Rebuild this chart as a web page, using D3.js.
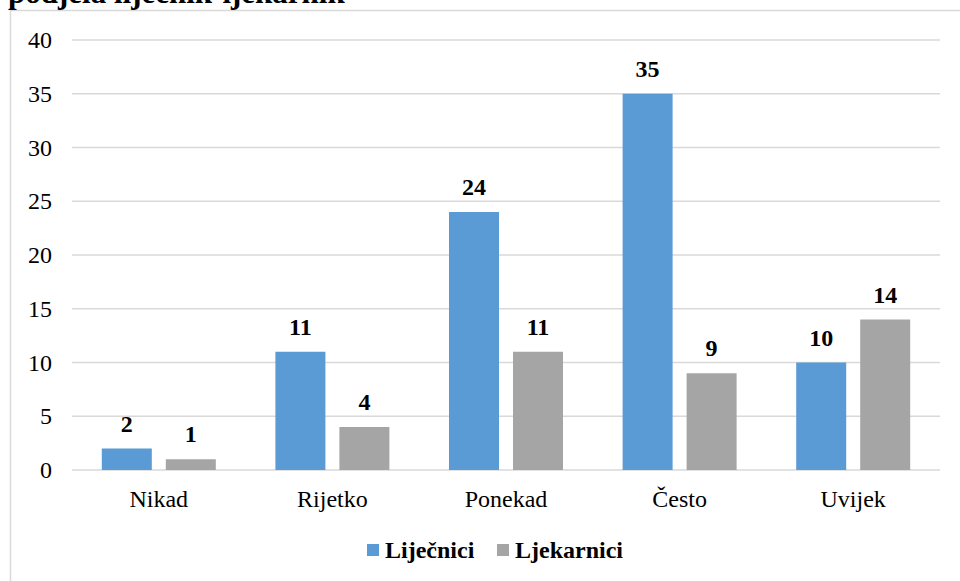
<!DOCTYPE html>
<html>
<head>
<meta charset="utf-8">
<script src="https://d3js.org/d3.v7.min.js"></script>
</head>
<body style="margin:0">
<div id="container"></div>
<script>
// data
var categories = ["Nikad", "Rijetko", "Ponekad", "Često", "Uvijek"];
var seriesNames = ["Liječnici", "Ljekarnici"];
var lijecnici = [2, 11, 24, 35, 10];
var ljekarnici = [1, 4, 11, 9, 14];
var yTicks = [0, 5, 10, 15, 20, 25, 30, 35, 40];
var colors = ["#5b9bd5", "#a5a5a5"];

const width = 960, height = 581;
const margin = { top: 40, bottom: 111, left: 72, right: 20 };
const fontName = "Liberation Serif";

var svg = d3.select("#container").append("svg")
    .attr("width", width)
    .attr("height", height)
    .style("display", "block");

function label(sel, size, bold) {
  return sel.attr("font-size", size)
    .attr("font-weight", bold ? "bold" : "normal")
    .attr("font-family", fontName)
    .style("font-family", fontName);
}

// frame (cut off at right and bottom)
svg.append("path")
    .attr("d", "M10.5," + height + "V10.5H" + width)
    .attr("fill", "none")
    .attr("stroke", "#d9d9d9")
    .attr("stroke-width", 1.5);

// title, mostly cut off at the top
label(svg.append("text"), 31, true)
    .attr("x", 8)
    .attr("y", 3)
    .text("podjela liječnik-ljekarnik");

var x = d3.scaleBand()
    .domain(categories)
    .range([margin.left, width - margin.right]);

var y = d3.scaleLinear()
    .domain([0, 40])
    .range([height - margin.bottom, margin.top]);

// gridlines
svg.append("g")
  .selectAll("line")
  .data(yTicks)
  .enter().append("line")
    .attr("x1", margin.left)
    .attr("x2", width - margin.right)
    .attr("y1", d => y(d))
    .attr("y2", d => y(d))
    .attr("stroke", "#d9d9d9")
    .attr("stroke-width", 1.5);

// y tick labels
label(svg.append("g")
  .selectAll("text")
  .data(yTicks)
  .enter().append("text"), 24, false)
    .attr("x", 52)
    .attr("y", d => y(d) + 8)
    .attr("text-anchor", "end")
    .text(d => d);

// x labels
label(svg.append("g")
  .selectAll("text")
  .data(categories)
  .enter().append("text"), 24, false)
    .attr("x", d => x(d) + x.bandwidth() / 2)
    .attr("y", y(0) + 37)
    .attr("text-anchor", "middle")
    .text(d => d);

// bars: two 50px bars with a 14px gap, centred in each band
var barW = 50, gap = 14;
var x1 = d3.scaleBand()
    .domain([0, 1])
    .range([x.bandwidth() / 2 - barW - gap / 2, x.bandwidth() / 2 + barW + gap / 2])
    .paddingInner(gap / (barW + gap));

[lijecnici, ljekarnici].forEach(function(vals, s) {
  var g = svg.append("g");
  g.selectAll("rect")
    .data(vals)
    .enter().append("rect")
      .attr("x", (d, i) => x(categories[i]) + x1(s))
      .attr("y", d => y(d))
      .attr("width", x1.bandwidth())
      .attr("height", d => y(0) - y(d))
      .attr("fill", colors[s]);
  label(g.selectAll("text")
    .data(vals)
    .enter().append("text"), 24, true)
      .attr("x", (d, i) => x(categories[i]) + x1(s) + x1.bandwidth() / 2)
      .attr("y", d => y(d) - 17)
      .attr("text-anchor", "middle")
      .text(d => d);
});

// legend
var legendX = [367, 497];
var legend = svg.append("g");
seriesNames.forEach(function(name, s) {
  legend.append("rect")
    .attr("x", legendX[s])
    .attr("y", 544)
    .attr("width", 12)
    .attr("height", 12)
    .attr("fill", colors[s]);
  label(legend.append("text"), 24, true)
    .attr("x", legendX[s] + 18)
    .attr("y", 558)
    .text(name);
});
</script>
</body>
</html>
